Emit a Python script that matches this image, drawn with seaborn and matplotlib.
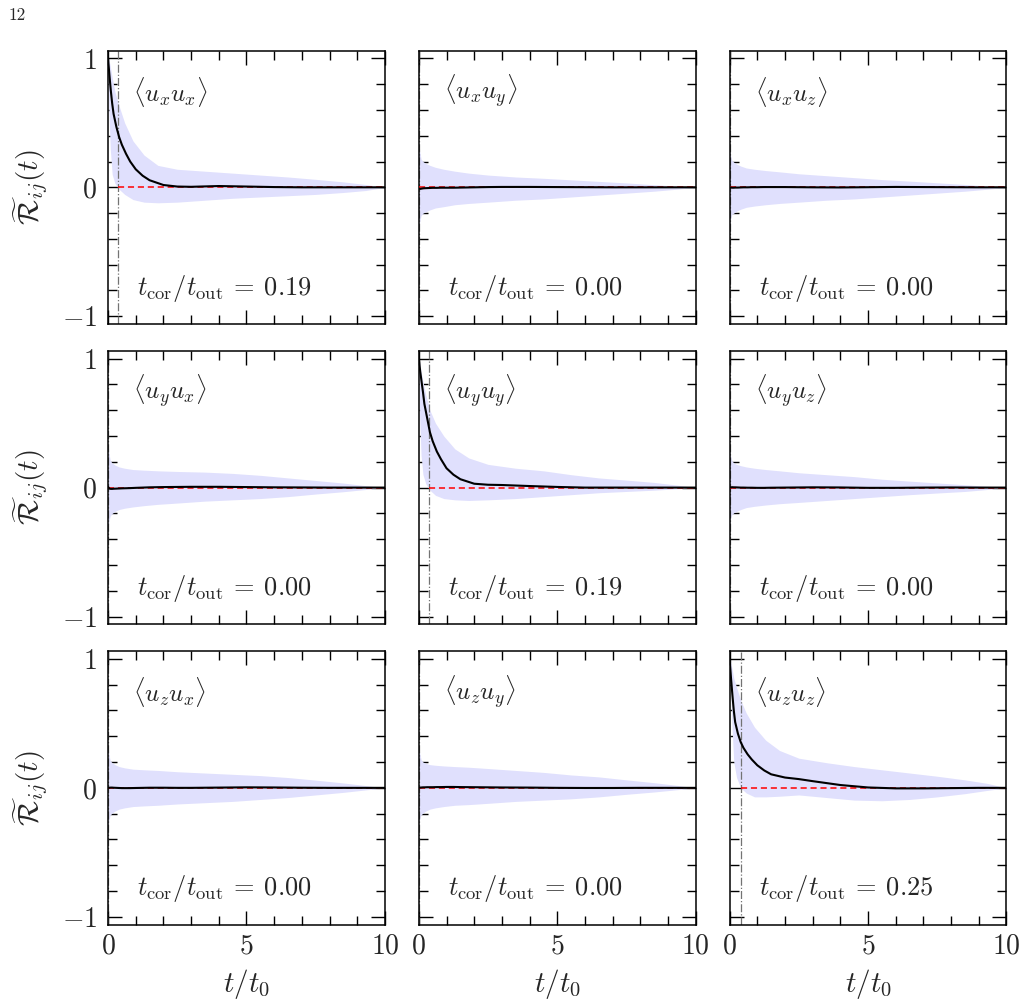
import numpy as np
import matplotlib
matplotlib.use("Agg")
import matplotlib.pyplot as plt
import seaborn as sns
from matplotlib.ticker import MultipleLocator

# time grids (t / t0)
t_line = [0, 0.05, 0.1, 0.15, 0.2, 0.3, 0.4, 0.5, 0.65, 0.8, 1.0, 1.25, 1.5, 2, 2.5, 3, 4, 5, 6, 7, 8, 9, 10]
t_band = [0, 0.03, 0.08, 0.15, 0.25, 0.4, 0.6, 0.9, 1.3, 1.8, 2.5, 3.5, 4.5, 5.5, 6.5, 7.5, 8.5, 9.3, 10]

# mean correlation curves
R_xx = [1.0, 0.87, 0.75, 0.65, 0.57, 0.47, 0.39, 0.33, 0.26, 0.2, 0.14, 0.09, 0.055, 0.018, 0.006, 0.004, 0.01, 0.006, 0.002, 0.0, 0.0, 0.0, 0.0]
R_xy = [-0.01, -0.012, -0.01, -0.008, -0.007, -0.006, -0.005, -0.004, -0.004, -0.003, -0.003, -0.003, -0.002, 0.0, 0.002, 0.003, 0.003, 0.002, 0.001, 0.0, 0.0, 0.0, 0.0]
R_xz = [0.0, -0.002, -0.003, -0.003, -0.002, -0.002, -0.001, 0.0, 0.0, 0.001, 0.001, 0.002, 0.002, 0.002, 0.001, 0.0, -0.001, 0.001, 0.003, 0.002, 0.001, 0.0, 0.0]
R_yx = [0.005, -0.008, -0.01, -0.01, -0.009, -0.008, -0.007, -0.006, -0.005, -0.004, -0.002, 0.0, 0.002, 0.004, 0.005, 0.006, 0.006, 0.004, 0.002, 0.001, 0.0, 0.0, 0.0]
R_yy = [1.0, 0.9, 0.82, 0.74, 0.65, 0.54, 0.43, 0.36, 0.28, 0.22, 0.15, 0.1, 0.065, 0.03, 0.022, 0.02, 0.012, 0.005, 0.0, 0.0, 0.0, 0.0, 0.0]
R_yz = [0.0, 0.002, 0.003, 0.002, 0.002, 0.001, 0.0, 0.0, -0.001, -0.001, -0.002, -0.002, -0.001, 0.0, 0.001, 0.002, 0.001, -0.002, -0.002, 0.0, 0.001, 0.0, 0.0]
R_zx = [0.0, 0.001, 0.002, 0.002, 0.001, 0.0, -0.001, -0.002, -0.002, -0.002, -0.001, 0.0, 0.001, 0.001, 0.0, 0.0, 0.002, 0.004, 0.003, 0.001, 0.0, 0.0, 0.0]
R_zy = [0.0, 0.002, 0.003, 0.004, 0.004, 0.005, 0.005, 0.005, 0.006, 0.006, 0.007, 0.007, 0.006, 0.005, 0.004, 0.003, 0.002, 0.0, -0.001, -0.001, 0.0, 0.0, 0.0]
R_zz = [1.0, 0.85, 0.72, 0.6, 0.51, 0.42, 0.355, 0.31, 0.26, 0.22, 0.175, 0.135, 0.105, 0.08, 0.068, 0.052, 0.022, 0.003, -0.004, -0.004, -0.002, 0.0, 0.0]

# spread over realisations (upper / lower)
hi_xx = [1.0, 0.99, 0.94, 0.85, 0.74, 0.63, 0.5, 0.36, 0.25, 0.17, 0.14, 0.125, 0.11, 0.095, 0.08, 0.062, 0.042, 0.022, 0.0]
lo_xx = [1.0, 0.6, 0.3, 0.1, 0.03, -0.015, -0.055, -0.095, -0.115, -0.12, -0.115, -0.1, -0.085, -0.075, -0.065, -0.055, -0.04, -0.025, 0.0]
hi_xy = [0.36, 0.28, 0.22, 0.2, 0.185, 0.17, 0.155, 0.14, 0.125, 0.11, 0.095, 0.08, 0.07, 0.058, 0.046, 0.034, 0.02, 0.01, 0.0]
lo_xy = [-0.34, -0.27, -0.22, -0.2, -0.19, -0.175, -0.16, -0.15, -0.135, -0.125, -0.115, -0.1, -0.09, -0.075, -0.06, -0.045, -0.03, -0.015, 0.0]
hi_xz = [0.33, 0.25, 0.21, 0.195, 0.18, 0.165, 0.15, 0.14, 0.13, 0.12, 0.105, 0.09, 0.075, 0.06, 0.048, 0.035, 0.022, 0.01, 0.0]
lo_xz = [-0.31, -0.25, -0.21, -0.2, -0.185, -0.17, -0.155, -0.145, -0.135, -0.125, -0.115, -0.1, -0.09, -0.075, -0.06, -0.045, -0.03, -0.015, 0.0]
hi_yx = [0.36, 0.27, 0.21, 0.19, 0.175, 0.16, 0.15, 0.14, 0.135, 0.13, 0.125, 0.12, 0.11, 0.095, 0.075, 0.055, 0.035, 0.015, 0.0]
lo_yx = [-0.33, -0.26, -0.22, -0.2, -0.185, -0.17, -0.16, -0.15, -0.14, -0.13, -0.12, -0.105, -0.095, -0.085, -0.07, -0.05, -0.032, -0.015, 0.0]
hi_yy = [1.0, 0.97, 0.9, 0.82, 0.72, 0.6, 0.5, 0.4, 0.3, 0.23, 0.18, 0.15, 0.13, 0.1, 0.075, 0.058, 0.04, 0.02, 0.0]
lo_yy = [1.0, 0.55, 0.25, 0.1, 0.03, -0.02, -0.06, -0.085, -0.095, -0.1, -0.095, -0.085, -0.07, -0.055, -0.04, -0.03, -0.02, -0.01, 0.0]
hi_yz = [0.32, 0.25, 0.21, 0.19, 0.18, 0.17, 0.16, 0.15, 0.14, 0.13, 0.115, 0.1, 0.085, 0.065, 0.05, 0.036, 0.022, 0.01, 0.0]
lo_yz = [-0.3, -0.24, -0.21, -0.195, -0.185, -0.17, -0.155, -0.145, -0.135, -0.125, -0.115, -0.1, -0.085, -0.07, -0.055, -0.042, -0.03, -0.015, 0.0]
hi_zx = [0.35, 0.26, 0.21, 0.195, 0.18, 0.165, 0.155, 0.145, 0.14, 0.135, 0.125, 0.115, 0.105, 0.095, 0.08, 0.06, 0.038, 0.018, 0.0]
lo_zx = [-0.32, -0.25, -0.21, -0.195, -0.18, -0.165, -0.155, -0.145, -0.14, -0.135, -0.125, -0.115, -0.105, -0.09, -0.075, -0.055, -0.035, -0.016, 0.0]
hi_zy = [0.34, 0.27, 0.22, 0.2, 0.19, 0.18, 0.175, 0.17, 0.165, 0.16, 0.15, 0.135, 0.12, 0.1, 0.085, 0.062, 0.04, 0.02, 0.0]
lo_zy = [-0.3, -0.24, -0.21, -0.195, -0.18, -0.165, -0.155, -0.145, -0.135, -0.13, -0.12, -0.105, -0.095, -0.085, -0.07, -0.05, -0.032, -0.015, 0.0]
hi_zz = [1.0, 0.98, 0.93, 0.85, 0.78, 0.68, 0.58, 0.47, 0.37, 0.29, 0.23, 0.195, 0.165, 0.14, 0.115, 0.09, 0.062, 0.035, 0.0]
lo_zz = [1.0, 0.85, 0.5, 0.2, 0.08, 0.0, -0.04, -0.07, -0.07, -0.065, -0.055, -0.075, -0.095, -0.1, -0.09, -0.07, -0.045, -0.02, 0.0]

# panel annotations
comp_labels = [r"$\langle u_x u_x \rangle$", r"$\langle u_x u_y \rangle$", r"$\langle u_x u_z \rangle$",
               r"$\langle u_y u_x \rangle$", r"$\langle u_y u_y \rangle$", r"$\langle u_y u_z \rangle$",
               r"$\langle u_z u_x \rangle$", r"$\langle u_z u_y \rangle$", r"$\langle u_z u_z \rangle$"]
tcor_ratio = ["0.19", "0.00", "0.00", "0.00", "0.19", "0.00", "0.00", "0.00", "0.25"]
t_cor = [0.36, 0.0, 0.0, 0.0, 0.36, 0.0, 0.0, 0.0, 0.41]

means = [R_xx, R_xy, R_xz, R_yx, R_yy, R_yz, R_zx, R_zy, R_zz]
highs = [hi_xx, hi_xy, hi_xz, hi_yx, hi_yy, hi_yz, hi_zx, hi_zy, hi_zz]
lows = [lo_xx, lo_xy, lo_xz, lo_yx, lo_yy, lo_yz, lo_zx, lo_zy, lo_zz]

sns.set_theme(style="ticks")
plt.rcParams.update({
    "font.family": "serif",
    "font.serif": ["cmr10"],
    "mathtext.fontset": "cm",
    "axes.formatter.use_mathtext": True,
    "axes.unicode_minus": True,
    "axes.linewidth": 1.1,
    "axes.edgecolor": "black",
})

fig, axes = plt.subplots(3, 3, figsize=(10.27, 10.07), dpi=100, sharex=True, sharey=True)
fig.subplots_adjust(left=0.1052, right=0.980, bottom=0.0819, top=0.9497, wspace=0.1227, hspace=0.0985)

for k, ax in enumerate(axes.flat):
    ax.fill_between(t_band, lows[k], highs[k], color="#e0e0fd", lw=0, zorder=1)
    ax.axvline(t_cor[k], color="0.45", ls="-.", lw=0.9, zorder=2)
    sns.lineplot(x=[t_cor[k], 10], y=[0, 0], ax=ax, color="red", lw=1.1,
                 linestyle=(0, (4, 2.5)), zorder=3)
    sns.lineplot(x=t_line, y=means[k], ax=ax, color="black", lw=1.5,
                 estimator=None, sort=False, zorder=4)
    ax.text(0.09, 0.85, comp_labels[k], transform=ax.transAxes, fontsize=18,
            ha="left", va="center")
    ax.text(0.105, 0.13, r"$t_{\rm cor}/t_{\rm out}\:=\:" + tcor_ratio[k] + "$",
            transform=ax.transAxes, fontsize=19, ha="left", va="center")

    ax.set_xlim(0, 10)
    ax.set_ylim(-1.06, 1.06)
    ax.xaxis.set_major_locator(MultipleLocator(5))
    ax.xaxis.set_minor_locator(MultipleLocator(1))
    ax.yaxis.set_major_locator(MultipleLocator(1))
    ax.yaxis.set_minor_locator(MultipleLocator(0.2))
    ax.tick_params(which="both", direction="in", top=True, right=True,
                   bottom=True, left=True, color="black", width=1.0)
    ax.tick_params(which="major", length=10, labelsize=20)
    ax.tick_params(which="minor", length=6.5)
    ax.tick_params(axis="x", which="major", pad=6)
    ax.tick_params(axis="y", which="major", pad=8)
    ax.set_xlabel("")
    ax.set_ylabel("")

for ax in axes[:, 0]:
    ax.set_ylabel(r"$\widetilde{\mathcal{R}}_{ij}(t)$", fontsize=21)
    ax.yaxis.set_label_coords(-0.21, 0.5)
for ax in axes[-1, :]:
    ax.set_xlabel(r"$t/t_0$", fontsize=21)
    ax.xaxis.set_label_coords(0.5, -0.155)

fig.text(0.008, 0.985, "12", fontsize=12.5, ha="left", va="center")

fig.savefig("out.png", dpi=100)
